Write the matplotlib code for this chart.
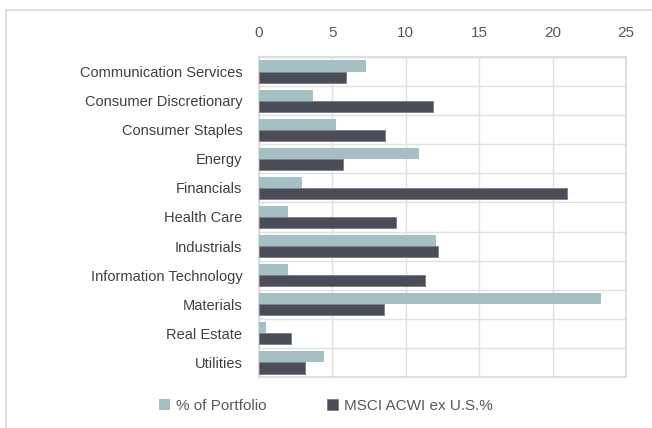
import matplotlib
matplotlib.use("Agg")
import matplotlib.pyplot as plt
import numpy as np
from matplotlib import font_manager

categories = ["Communication Services", "Consumer Discretionary", "Consumer Staples", "Energy",
              "Financials", "Health Care", "Industrials", "Information Technology",
              "Materials", "Real Estate", "Utilities"]
portfolio = [7.3, 3.7, 5.25, 10.9, 2.95, 1.95, 12.05, 2.0, 23.3, 0.5, 4.4]
msci = [5.9, 11.85, 8.55, 5.7, 20.95, 9.3, 12.2, 11.3, 8.5, 2.2, 3.1]
xticks = [0, 5, 10, 15, 20, 25]
series_names = ["% of Portfolio", "MSCI ACWI ex U.S.%"]

names = {f.name for f in font_manager.fontManager.ttflist}
fam = "Liberation Sans Narrow" if "Liberation Sans Narrow" in names else "Liberation Sans"
plt.rcParams["font.family"] = [fam, "DejaVu Sans"]

light = "#A4C0C4"
dark = "#4A4D57"
txt = "#595959"

fig = plt.figure(figsize=(6.52, 4.28), dpi=100)
ax = fig.add_axes([259/652, 1-377/428, (626-259)/652, (377-57)/428])

y = np.arange(len(categories))
h = 0.38
ax.barh(y - h/2, portfolio, height=h, color=light, label=series_names[0], zorder=3)
ax.barh(y + h/2, msci, height=h, color=dark, edgecolor="#7a7d85", linewidth=0.6,
        label=series_names[1], zorder=3)

ax.set_xlim(0, 25)
ax.set_ylim(len(categories) - 0.5, -0.5)
ax.set_xticks(xticks)
ax.xaxis.tick_top()
ax.tick_params(axis="x", length=0, pad=12, labelsize=11, labelcolor=txt)
ax.set_yticks(y)
ax.set_yticklabels(categories)
ax.tick_params(axis="y", length=0, pad=12, labelsize=10.5, labelcolor="#404040")
ax.set_yticks(np.arange(len(categories) + 1) - 0.5, minor=True)
ax.tick_params(axis="y", which="minor", length=0)
ax.grid(axis="x", color="#e0e0e0", linewidth=1, zorder=0)
ax.grid(axis="y", which="minor", color="#e0e0e0", linewidth=1, zorder=0)
for s in ax.spines.values():
    s.set_color("#d9d9d9")
    s.set_linewidth(1.2)

# outer chart border (top and left visible)
fig.add_artist(plt.Line2D([6/652, 1], [1-10/428, 1-10/428], color="#d9d9d9", lw=1.2,
                          transform=fig.transFigure))
fig.add_artist(plt.Line2D([6/652, 6/652], [0, 1-10/428], color="#d9d9d9", lw=1.2,
                          transform=fig.transFigure))

leg = fig.legend(loc="center", bbox_to_anchor=(326/652, 1-406/428), ncol=2, frameon=False,
                 fontsize=11, handlelength=0.7, handleheight=0.7, handletextpad=0.4,
                 columnspacing=4.0)
for t in leg.get_texts():
    t.set_color(txt)

fig.savefig("out.png", dpi=100)
